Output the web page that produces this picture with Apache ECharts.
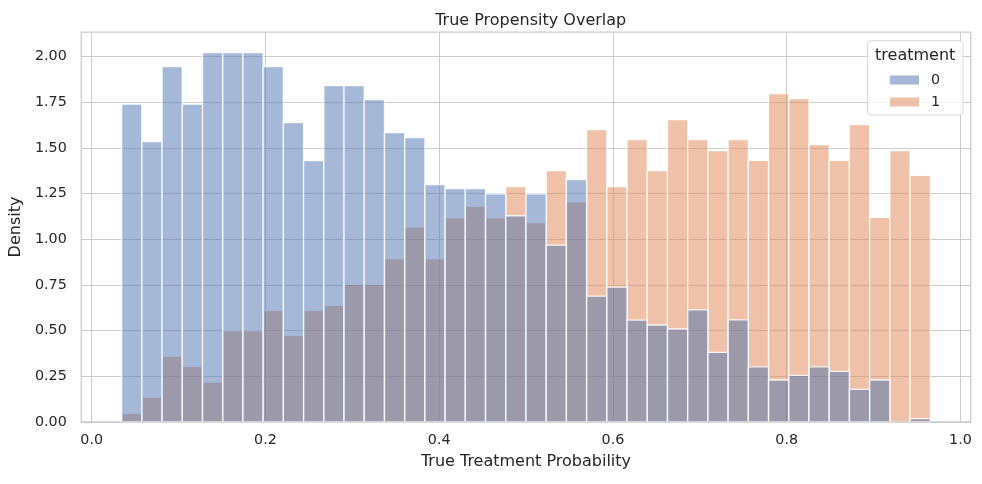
<!DOCTYPE html>
<html>
<head>
<meta charset="utf-8">
<title>True Propensity Overlap</title>
<script src="https://cdn.jsdelivr.net/npm/echarts@6/dist/echarts.min.js"></script>
<style>
  html, body { margin: 0; padding: 0; background: #fff; }
  #chart { width: 982px; height: 484px; }
</style>
</head>
<body>
<div id="chart"></div>
<script>
// histogram bins (40 equal bins)
const binStart = 0.0345
const binWidth = 0.02327
const treatments = ['0', '1']
// density per bin, treatment = 0
const density0 = [
  1.74, 1.535, 1.945, 1.74, 2.022, 2.022, 2.022, 1.945, 1.639, 1.431,
  1.841, 1.841, 1.765, 1.584, 1.557, 1.30, 1.278, 1.278, 1.249, 1.129,
  1.249, 0.968, 1.327, 0.689, 0.738, 0.558, 0.531, 0.509, 0.614, 0.381,
  0.559, 0.302, 0.230, 0.255, 0.302, 0.277, 0.179, 0.230, 0, 0.018
]
// density per bin, treatment = 1
const density1 = [
  0.047, 0.135, 0.359, 0.304, 0.219, 0.501, 0.501, 0.611, 0.474, 0.611,
  0.638, 0.753, 0.753, 0.895, 1.067, 0.895, 1.119, 1.180, 1.119, 1.289,
  1.092, 1.376, 1.207, 1.601, 1.289, 1.546, 1.376, 1.655, 1.546, 1.486,
  1.546, 1.432, 1.798, 1.770, 1.519, 1.432, 1.628, 1.120, 1.486, 1.350
]
const xTicks = [0, 0.2, 0.4, 0.6, 0.8, 1.0]
const yTicks = [0, 0.25, 0.5, 0.75, 1.0, 1.25, 1.5, 1.75, 2.0]

const textColor = '#262626'
const font = 'DejaVu Sans'

function toBins(values) {
  const rows = []
  values.forEach((v, i) => {
    if (v > 0) rows.push([binStart + i * binWidth, binStart + (i + 1) * binWidth, v])
  })
  return rows
}

function renderBar(params, api) {
  const p0 = api.coord([api.value(0), api.value(2)])
  const p1 = api.coord([api.value(1), 0])
  return {
    type: 'rect',
    shape: { x: p0[0], y: p0[1], width: p1[0] - p0[0], height: p1[1] - p0[1] },
    style: { fill: api.visual('color'), stroke: 'rgba(255,255,255,0.85)', lineWidth: 1.3 }
  }
}

const xEnd = binStart + density0.length * binWidth
const xPad = (xEnd - binStart) * 0.05

let myChart = echarts.init(document.getElementById('chart'))
myChart.setOption({
  animation: false,
  textStyle: { fontFamily: font, color: textColor },
  title: {
    text: 'True Propensity Overlap',
    left: 525.7,
    top: 8,
    textAlign: 'center',
    textStyle: { fontFamily: font, fontSize: 16, fontWeight: 'normal', color: textColor }
  },
  grid: {
    left: 80.7, right: 11.3, top: 32, bottom: 62,
    show: true, borderColor: '#cccccc', borderWidth: 1.25
  },
  xAxis: {
    type: 'value',
    min: binStart - xPad,
    max: xEnd + xPad,
    name: 'True Treatment Probability',
    nameLocation: 'middle',
    nameGap: 32,
    nameTextStyle: { fontFamily: font, fontSize: 16, color: textColor },
    axisLine: { show: false },
    axisTick: { show: false, customValues: xTicks },
    axisLabel: {
      customValues: xTicks,
      margin: 11.5,
      fontSize: 14.3,
      color: textColor,
      formatter: v => v.toFixed(1)
    },
    splitLine: { show: true, lineStyle: { color: '#cccccc', width: 1 } }
  },
  yAxis: {
    type: 'value',
    min: 0,
    max: 2.135,
    name: 'Density',
    nameLocation: 'middle',
    nameGap: 52,
    nameTextStyle: { fontFamily: font, fontSize: 16, color: textColor },
    axisLine: { show: false },
    axisTick: { show: false, customValues: yTicks },
    axisLabel: {
      customValues: yTicks,
      margin: 14.5,
      fontSize: 14.3,
      color: textColor,
      formatter: v => v.toFixed(2)
    },
    splitLine: { show: true, lineStyle: { color: '#cccccc', width: 1 } }
  },
  legend: {
    data: treatments,
    orient: 'vertical',
    left: 890,
    top: 73,
    padding: 0,
    itemGap: 8,
    itemWidth: 29,
    itemHeight: 9,
    icon: 'rect',
    z: 200,
    textStyle: { fontFamily: font, fontSize: 14.3, color: textColor, padding: [0, 0, 0, 7] }
  },
  graphic: [
    // bottom spine drawn above the bars, like matplotlib
    {
      type: 'line',
      z: 50,
      shape: { x1: 80.7, y1: 422, x2: 970.7, y2: 422 },
      style: { stroke: '#cccccc', lineWidth: 1.25 }
    },
    {
      type: 'rect',
      z: 100,
      shape: { x: 867.7, y: 40.7, width: 95.3, height: 74.3, r: 3 },
      style: { fill: 'rgba(255,255,255,0.8)', stroke: '#d6d6d6', lineWidth: 1 }
    },
    {
      type: 'text',
      z: 201,
      x: 915.2,
      y: 55.5,
      style: {
        text: 'treatment', fontFamily: font, fontSize: 16, fill: textColor,
        textAlign: 'center', textVerticalAlign: 'middle'
      }
    }
  ],
  series: [
    {
      name: '1',
      type: 'custom',
      renderItem: renderBar,
      itemStyle: { color: 'rgba(221,132,82,0.5)' },
      encode: { x: [0, 1], y: 2 },
      data: toBins(density1),
      z: 2
    },
    {
      name: '0',
      type: 'custom',
      renderItem: renderBar,
      itemStyle: { color: 'rgba(76,114,176,0.5)' },
      encode: { x: [0, 1], y: 2 },
      data: toBins(density0),
      z: 3
    }
  ]
})
</script>
</body>
</html>
